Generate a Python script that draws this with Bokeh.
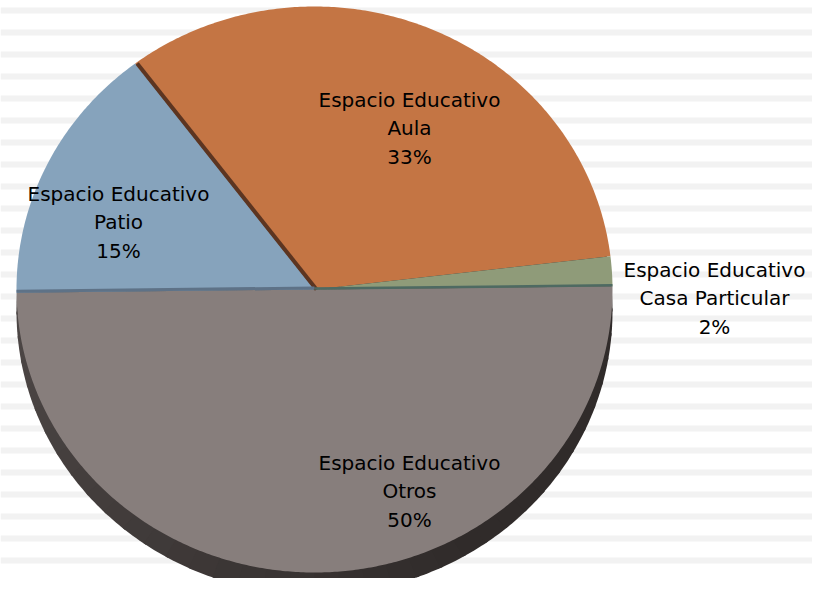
import numpy as np
from bokeh.plotting import figure
from bokeh.models import Range1d, ColumnDataSource
from bokeh.core.properties import value
from bokeh.embed import file_html
from bokeh.resources import INLINE

# ---- data ----
categories = ["Aula", "Casa Particular", "Otros", "Patio"]
shares = [33.4, 1.7, 50.0, 14.9]          # percent of total
slice_colors = ["#c47544", "#8f9b79", "#877e7c", "#86a3bc"]
edge_colors = ["#5c3521", "#4e6a62", "#3a3433", "#5e7287"]
label_pos = [(409, 128), (714, 298), (409, 491), (118, 222)]

# ---- layout ----
W, H = 812, 578
cx, cy = 314.0, 289.0
rx, ry = 298.0, 283.0
depth = 22.0
start_deg = 127.0

p = figure(width=W, height=H, x_range=Range1d(0, W), y_range=Range1d(H, 0),
           output_backend="svg", toolbar_location=None, min_border=0,
           background_fill_color="white", border_fill_color="white")
p.axis.visible = False
p.grid.visible = False
p.outline_line_color = None

# background stripes
ys = 7 + 22 * np.arange(27)
p.quad(left=0, right=830, bottom=ys, top=ys + 6, fill_color="#f2f2f2", line_color=None)

def ell(theta_deg, dy=0.0):
    t = np.radians(theta_deg)
    return cx + rx * np.cos(t), cy + dy - ry * np.sin(t)

# 3D side: shifted ellipse drawn as shaded sectors (lighter at left, darker at bottom/right)
light = np.array([0x4d, 0x47, 0x46], float)
dark = np.array([0x30, 0x2b, 0x2a], float)
seg_x, seg_y, seg_c = [], [], []
edges_deg = np.linspace(180, 540, 73)
for a, b in zip(edges_deg[:-1], edges_deg[1:]):
    mid = (a + b) / 2 % 360
    if 180 <= mid <= 300:
        f = (mid - 180) / 120.0
    else:
        f = 1.0
    c = light + (dark - light) * f
    t = np.linspace(a, b + 0.6, 8)
    ex, ey = ell(t, depth)
    seg_x.append(np.concatenate([[cx], ex]))
    seg_y.append(np.concatenate([[cy + depth], ey]))
    seg_c.append("#%02x%02x%02x" % tuple(int(round(v)) for v in c))
p.patches(seg_x, seg_y, fill_color=seg_c, line_color=None)

# slices
a0 = start_deg
xs_list, ys_list, bounds = [], [], []
for v in shares:
    a1 = a0 - v * 3.6
    t = np.linspace(a0, a1, max(8, int(abs(a1 - a0) * 2)))
    ex, ey = ell(t)
    xs_list.append(np.concatenate([[cx], ex]))
    ys_list.append(np.concatenate([[cy], ey]))
    bounds.append((a0, a1))
    a0 = a1

p.patches(xs_list, ys_list, fill_color=slice_colors, line_color=None)

# cut-face edges
edge_specs = [(0, bounds[0][0], 2.0, 0.0, 4), (1, bounds[1][1], 0.0, -1.0, 2.5), (3, bounds[3][0], 0.0, -1.5, 3)]
for i, ang, off_x, off_y, w in edge_specs:
    ex, ey = ell(ang)
    p.line([cx + off_x, ex + off_x], [cy + off_y, ey + off_y], line_color=edge_colors[i], line_width=w)

# labels
lx = [q[0] for q in label_pos]
ly = [q[1] for q in label_pos]
texts = ["Espacio Educativo\n%s\n%d%%" % (c, round(v)) for c, v in zip(categories, shares)]
src = ColumnDataSource(dict(x=lx, y=ly, t=texts))
p.text(x="x", y="y", text="t", source=src, text_align="center", text_baseline="middle",
       text_font=value("DejaVu Sans"), text_font_size="20px", text_line_height=1.2, text_color="#000000")

open("out.html", "w").write(file_html(p, INLINE))
